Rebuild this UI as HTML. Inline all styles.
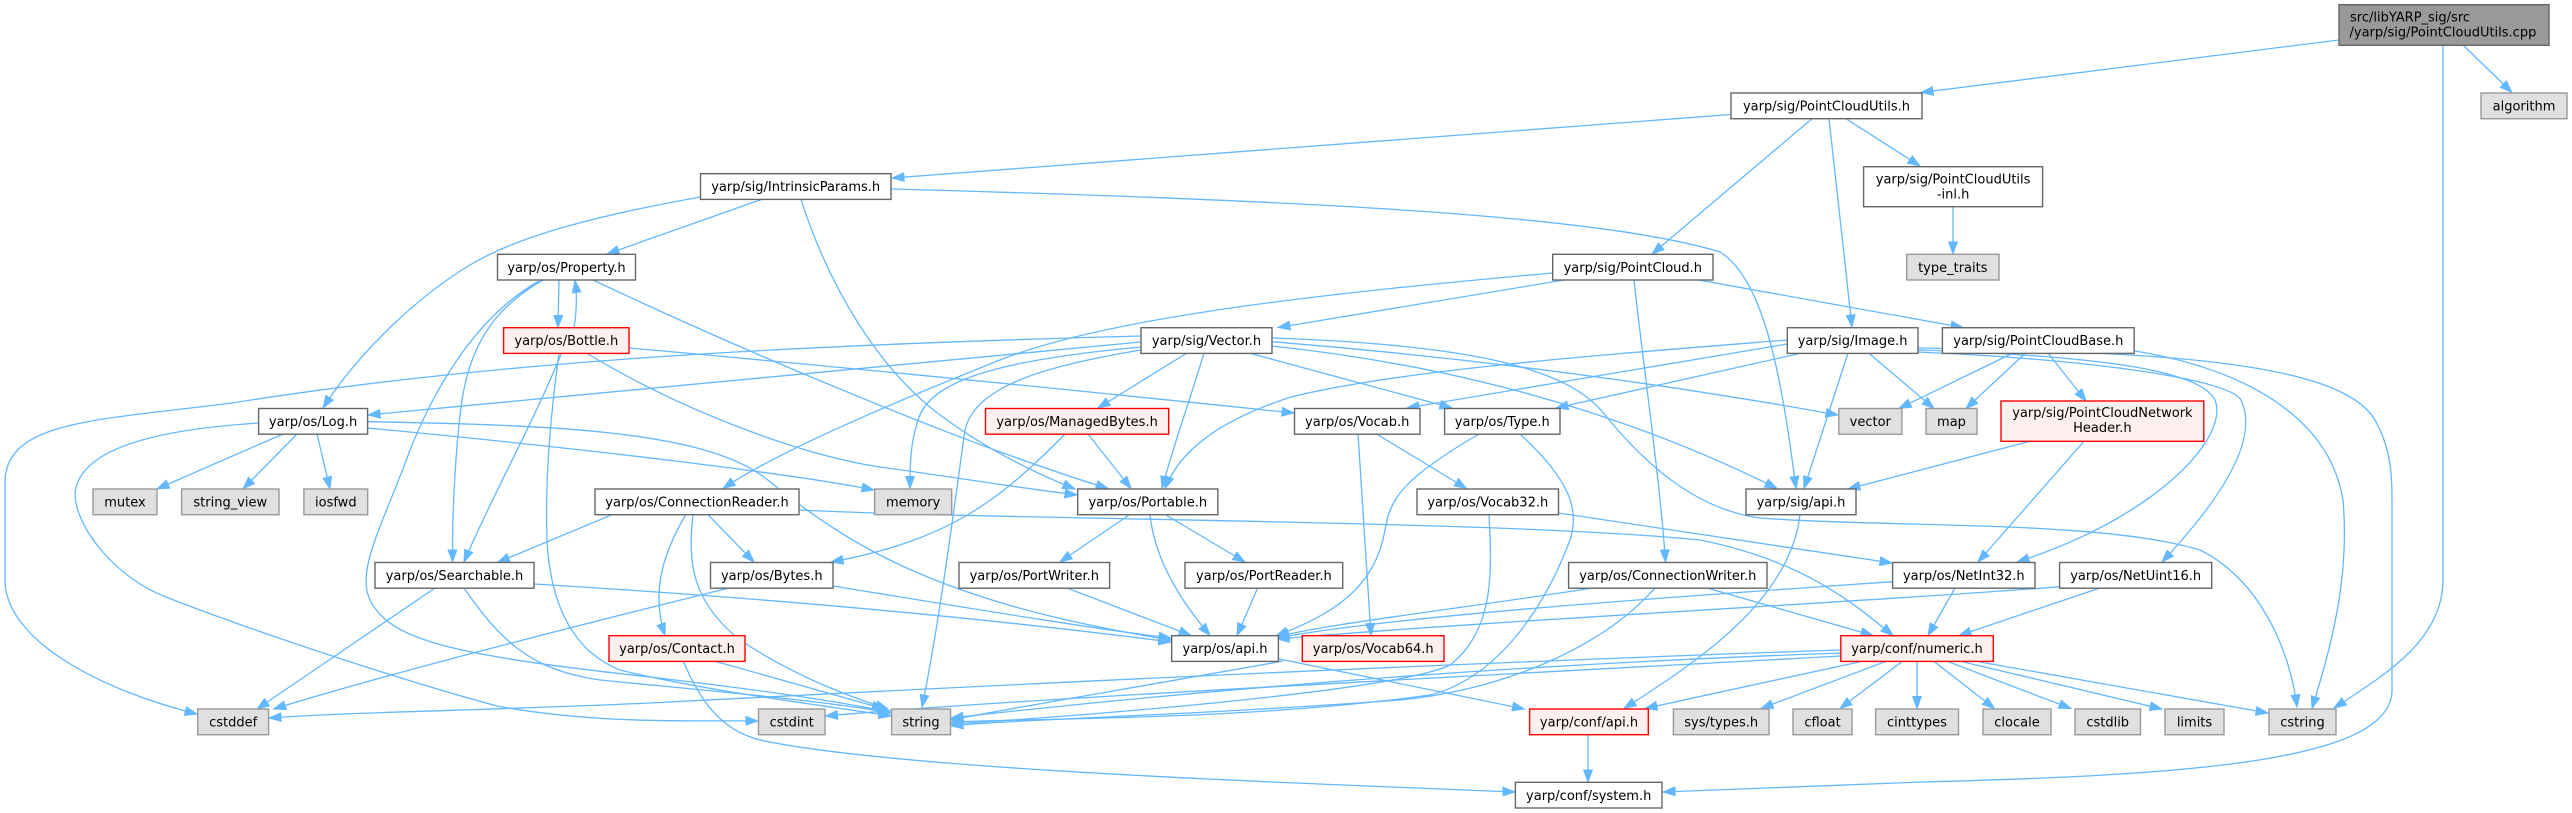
<!DOCTYPE html>
<html><head><meta charset="utf-8"><style>
html,body{margin:0;padding:0;background:#fff;}
svg{display:block;}
text{font-family:"DejaVu Sans","Liberation Sans",sans-serif;font-size:13px;fill:#000;}
.n rect{fill:#fff;stroke:#666;stroke-width:1.4;}
.r rect{fill:#fff0f0;stroke:#ff0000;stroke-width:1.4;}
.g rect{fill:#e0e0e0;stroke:#999;stroke-width:1.4;}
.e path{fill:none;stroke:#63b8ff;stroke-width:1.3;marker-end:url(#ar);}
</style></head><body>
<svg width="2572" height="813" viewBox="0 0 2572 813" xmlns="http://www.w3.org/2000/svg">
<defs><marker id="ar" markerUnits="userSpaceOnUse" markerWidth="14" markerHeight="11" refX="12.5" refY="5" orient="auto"><path d="M0,0.5 L12.5,5 L0,9.5 z" fill="#63b8ff" stroke="#63b8ff" stroke-width="1"/></marker></defs>
<g class="e">
<path d="M2339,40 L1921,92.5"/>
<path d="M2463,45 L2512,92.5"/>
<path d="M2443,45 L2443,580 C2443,640 2385,675 2334,708"/>
<path d="M1731,114.5 L892,178"/>
<path d="M1812,118.7 L1652,254"/>
<path d="M1829,118.7 L1852,327"/>
<path d="M1846,118.7 L1920,166"/>
<path d="M1953,206.7 L1953,254"/>
<path d="M700.5,197 C600,215 520,235 470,265 C420,295 360,350 323,408"/>
<path d="M762,199.3 L607,254"/>
<path d="M801,199.3 C830,290 880,370 940,415 C990,452 1040,475 1075,489"/>
<path d="M891,189 C1300,200 1600,215 1720,252 C1765,280 1782,380 1796,488.5"/>
<path d="M559,280 L558,327.5"/>
<path d="M574,327.7 C577,310 577,295 575,280.5"/>
<path d="M543,280 C490,310 470,350 462,400 C455,450 452,520 452.6,562"/>
<path d="M539,281 C470,320 430,400 410,450 C385,520 355,570 370,600 C390,640 450,655 650,677 C760,690 830,700 890,712"/>
<path d="M593,280 C720,340 950,440 1108,488.5"/>
<path d="M561.6,353 C530,430 490,500 464,562"/>
<path d="M559,353 C550,420 545,480 547,540 C550,600 570,650 620,670 C700,690 820,705 891,716"/>
<path d="M586.5,353 C680,410 800,455 880,467 C960,478 1020,488 1077,495"/>
<path d="M629,348 C900,372 1150,398 1294,413"/>
<path d="M1141,342 L368,415"/>
<path d="M1141,336 C800,345 500,360 232,403 C100,420 8,420 5,480 L5,580 C5,640 100,690 197,714"/>
<path d="M1141,347 C1000,360 930,380 918,420 C910,445 910,465 910,488.5"/>
<path d="M1141,350 C1050,365 975,385 965,430 C955,500 940,620 922,707"/>
<path d="M1187,353 L1098,408"/>
<path d="M1204,353 C1190,400 1175,440 1162,488.5"/>
<path d="M1249,353 L1452,408"/>
<path d="M1272,341.7 C1500,360 1700,390 1838,415"/>
<path d="M1272,346 C1450,365 1620,410 1777,488.5"/>
<path d="M1272,338 C1480,345 1570,370 1605,415 C1650,470 1700,510 1760,518 C1900,528 2100,520 2200,550 C2260,580 2290,650 2297,707"/>
<path d="M1564,280 L1278,327.5"/>
<path d="M1553,273 C1300,295 1100,320 1000,360 C900,400 780,450 723,488.5"/>
<path d="M1698.6,280 L1963,327.5"/>
<path d="M1634,280 C1645,380 1660,480 1665.5,562"/>
<path d="M1787,344 L1407,408"/>
<path d="M1802,353 L1556,408"/>
<path d="M1787,340 C1600,355 1400,370 1291,397 C1220,420 1180,450 1165,488.5"/>
<path d="M1848,353 L1804,488.5"/>
<path d="M1868.6,353 L1934,408.5"/>
<path d="M1918,350 C2100,356 2200,370 2215,400 C2230,440 2150,520 2017,562"/>
<path d="M1918,352 C2100,360 2230,380 2241,400 C2260,440 2220,500 2162,562"/>
<path d="M1918,348 C2150,352 2340,360 2375,420 C2392,450 2392,480 2392,500 L2392,690 C2392,760 2200,775 1922,782 C1800,786 1700,790 1663,792"/>
<path d="M2013,353 L1899,408.5"/>
<path d="M2025.6,353 L1966,408.5"/>
<path d="M2048,353 L2086,401"/>
<path d="M2135,351 C2250,370 2330,420 2343,500 C2350,580 2330,650 2312,708.5"/>
<path d="M2030,441.3 L1848,489"/>
<path d="M2083.6,441.7 L1978,562"/>
<path d="M283,434 L157,489"/>
<path d="M297,434 L243,489"/>
<path d="M317,434 L330,489"/>
<path d="M367.6,428 C600,450 800,475 874,490"/>
<path d="M367.6,421.7 C550,425 700,430 764,477 C830,530 900,580 1054,617 C1100,628 1140,635 1171,640"/>
<path d="M258.6,423 C150,430 80,450 75,493 C75,530 120,580 166,597 C250,630 400,680 497,706 C600,725 700,720 758,721"/>
<path d="M612,514.7 L497.5,562.5"/>
<path d="M708,514.7 L754,562"/>
<path d="M685.6,515 C665,550 650,590 665,635.5"/>
<path d="M693,515 C688,560 690,600 740,640 C800,680 860,700 888,709"/>
<path d="M799,510 C1000,520 1500,520 1700,540 C1800,560 1850,600 1893,635.5"/>
<path d="M435,588 L257,709"/>
<path d="M464,588 C500,640 530,670 600,680 C700,690 820,700 891,713"/>
<path d="M534,584 C800,600 1000,620 1171,642"/>
<path d="M729,588 C600,620 400,670 273.6,709"/>
<path d="M833,586 C950,605 1100,630 1171,638"/>
<path d="M1065,434 C1000,500 950,540 831,562"/>
<path d="M1088,434 L1131,488.5"/>
<path d="M1129,515 L1060,562"/>
<path d="M1166,515 L1245,562"/>
<path d="M1150,515 C1155,560 1180,600 1210,635.5"/>
<path d="M1067,588 L1191,635.5"/>
<path d="M1257.6,588 L1237,635.5"/>
<path d="M716.7,661.7 L884.5,709"/>
<path d="M683.5,661.7 C700,700 720,730 760,740 C900,770 1300,783 1515,792"/>
<path d="M1278,658.7 L1524.5,709"/>
<path d="M1283,661 C1150,685 1000,710 951,720"/>
<path d="M1376.6,434 L1466.5,488.5"/>
<path d="M1358,434 L1371,635.5"/>
<path d="M1479,434 C1400,480 1390,500 1385,530 C1375,590 1330,615 1276,636"/>
<path d="M1520,434 C1570,480 1580,510 1570,540 C1540,620 1490,680 1430,695 C1250,720 1050,718 951,722"/>
<path d="M1558.5,513 L1892,563"/>
<path d="M1489,514.7 C1492,570 1495,630 1450,665 C1400,690 1100,715 951,724"/>
<path d="M1800,514.7 C1790,600 1700,660 1624,708.5"/>
<path d="M1593,588 C1450,610 1320,625 1277,637"/>
<path d="M1655,588 C1600,650 1500,690 1400,700 C1200,715 1000,720 951,726"/>
<path d="M1707,588 L1873,635.5"/>
<path d="M1892.6,581.7 C1700,595 1400,615 1277,638"/>
<path d="M1955,588 L1928,635.5"/>
<path d="M2059.6,586.7 C1900,600 1500,620 1277,639"/>
<path d="M2100,588 L1959,635.5"/>
<path d="M1860,661.7 L1645,708.5"/>
<path d="M1885,661.7 L1761,708.5"/>
<path d="M1901.8,661.7 L1840,708.5"/>
<path d="M1917,661.7 L1917,708.5"/>
<path d="M1934.4,661.7 L1994.5,708.5"/>
<path d="M1949,662 L2071,708.5"/>
<path d="M1963.5,662 L2162,709"/>
<path d="M1980,662 L2268,713"/>
<path d="M1840.8,653 C1500,665 1200,690 951,718"/>
<path d="M1841,656 C1400,680 1000,700 825.5,716"/>
<path d="M1841,650 C1400,665 900,690 650,703 C500,710 350,712 269,718"/>
<path d="M1588,735 L1588,782"/>
</g>

<g class="n"><rect x="2339" y="4.7" width="210" height="40.6" style="fill:#999;stroke:#666"/></g>
<text x="2350" y="21.5">src/libYARP_sig/src</text>
<text x="2349.5" y="36.5">/yarp/sig/PointCloudUtils.cpp</text>

<g class="n"><rect x="1731" y="93" width="191" height="25.7"/></g><text x="1826.5" y="110.5" text-anchor="middle">yarp/sig/PointCloudUtils.h</text>
<g class="g"><rect x="2481" y="93" width="86" height="25.7"/></g><text x="2524" y="110.5" text-anchor="middle">algorithm</text>

<g class="n"><rect x="700.5" y="173.7" width="190.5" height="25.7"/></g><text x="795.7" y="191.2" text-anchor="middle">yarp/sig/IntrinsicParams.h</text>
<g class="n"><rect x="1863.6" y="166.7" width="179" height="40"/></g>
<text x="1953.1" y="183.5" text-anchor="middle">yarp/sig/PointCloudUtils</text>
<text x="1953.1" y="198.5" text-anchor="middle">-inl.h</text>

<g class="n"><rect x="497.5" y="254.3" width="138" height="25.7"/></g><text x="566.5" y="271.8" text-anchor="middle">yarp/os/Property.h</text>
<g class="n"><rect x="1552.7" y="254.3" width="160.3" height="25.7"/></g><text x="1632.8" y="271.8" text-anchor="middle">yarp/sig/PointCloud.h</text>
<g class="g"><rect x="1906.7" y="254.3" width="92.3" height="25.7"/></g><text x="1952.8" y="271.8" text-anchor="middle">type_traits</text>

<g class="r"><rect x="503.6" y="327.7" width="125.4" height="25.7"/></g><text x="566.3" y="345.2" text-anchor="middle">yarp/os/Bottle.h</text>
<g class="n"><rect x="1141" y="327.7" width="131" height="25.7"/></g><text x="1206.5" y="345.2" text-anchor="middle">yarp/sig/Vector.h</text>
<g class="n"><rect x="1787.3" y="327.7" width="130.7" height="25.7"/></g><text x="1852.6" y="345.2" text-anchor="middle">yarp/sig/Image.h</text>
<g class="n"><rect x="1942.4" y="327.7" width="191.8" height="25.7"/></g><text x="2038.3" y="345.2" text-anchor="middle">yarp/sig/PointCloudBase.h</text>

<g class="n"><rect x="258.6" y="408.5" width="109" height="25.7"/></g><text x="313.1" y="426" text-anchor="middle">yarp/os/Log.h</text>
<g class="r"><rect x="985.5" y="408.5" width="183.2" height="25.7"/></g><text x="1077.1" y="426" text-anchor="middle">yarp/os/ManagedBytes.h</text>
<g class="n"><rect x="1294.5" y="408.5" width="125.5" height="25.7"/></g><text x="1357.2" y="426" text-anchor="middle">yarp/os/Vocab.h</text>
<g class="n"><rect x="1444.6" y="408.5" width="115.4" height="25.7"/></g><text x="1502.3" y="426" text-anchor="middle">yarp/os/Type.h</text>
<g class="g"><rect x="1838.8" y="408.5" width="63.1" height="25.7"/></g><text x="1870.3" y="426" text-anchor="middle">vector</text>
<g class="g"><rect x="1926" y="408.5" width="51" height="25.7"/></g><text x="1951.5" y="426" text-anchor="middle">map</text>
<g class="r"><rect x="2001" y="401" width="202.8" height="40.3"/></g>
<text x="2102.4" y="417" text-anchor="middle">yarp/sig/PointCloudNetwork</text>
<text x="2102.4" y="432" text-anchor="middle">Header.h</text>

<g class="g"><rect x="93" y="489" width="64" height="25.7"/></g><text x="125" y="506.5" text-anchor="middle">mutex</text>
<g class="g"><rect x="181.6" y="489" width="97.4" height="25.7"/></g><text x="230.3" y="506.5" text-anchor="middle">string_view</text>
<g class="g"><rect x="303.9" y="489" width="63.8" height="25.7"/></g><text x="335.8" y="506.5" text-anchor="middle">iosfwd</text>
<g class="n"><rect x="595" y="489" width="204" height="25.7"/></g><text x="697" y="506.5" text-anchor="middle">yarp/os/ConnectionReader.h</text>
<g class="g"><rect x="874.6" y="489" width="77.1" height="25.7"/></g><text x="913.2" y="506.5" text-anchor="middle">memory</text>
<g class="n"><rect x="1077.7" y="489" width="140.1" height="25.7"/></g><text x="1147.8" y="506.5" text-anchor="middle">yarp/os/Portable.h</text>
<g class="n"><rect x="1417" y="489" width="141.5" height="25.7"/></g><text x="1487.8" y="506.5" text-anchor="middle">yarp/os/Vocab32.h</text>
<g class="n"><rect x="1746" y="489" width="110" height="25.7"/></g><text x="1801" y="506.5" text-anchor="middle">yarp/sig/api.h</text>

<g class="n"><rect x="375" y="562.5" width="159" height="25.7"/></g><text x="454.5" y="580" text-anchor="middle">yarp/os/Searchable.h</text>
<g class="n"><rect x="710.5" y="562.5" width="122.5" height="25.7"/></g><text x="771.8" y="580" text-anchor="middle">yarp/os/Bytes.h</text>
<g class="n"><rect x="959" y="562.5" width="150.6" height="25.7"/></g><text x="1034.3" y="580" text-anchor="middle">yarp/os/PortWriter.h</text>
<g class="n"><rect x="1185" y="562.5" width="157.7" height="25.7"/></g><text x="1263.9" y="580" text-anchor="middle">yarp/os/PortReader.h</text>
<g class="n"><rect x="1568.6" y="562.5" width="198.4" height="25.7"/></g><text x="1667.8" y="580" text-anchor="middle">yarp/os/ConnectionWriter.h</text>
<g class="n"><rect x="1892.6" y="562.5" width="142.4" height="25.7"/></g><text x="1963.8" y="580" text-anchor="middle">yarp/os/NetInt32.h</text>
<g class="n"><rect x="2059.6" y="562.5" width="152.1" height="25.7"/></g><text x="2135.7" y="580" text-anchor="middle">yarp/os/NetUint16.h</text>

<g class="r"><rect x="609" y="635.7" width="136" height="25.7"/></g><text x="677" y="653.2" text-anchor="middle">yarp/os/Contact.h</text>
<g class="n"><rect x="1171.7" y="635.7" width="106.7" height="25.7"/></g><text x="1225" y="653.2" text-anchor="middle">yarp/os/api.h</text>
<g class="r"><rect x="1302.3" y="635.7" width="141.7" height="25.7"/></g><text x="1373.2" y="653.2" text-anchor="middle">yarp/os/Vocab64.h</text>
<g class="r"><rect x="1840.8" y="635.7" width="152.5" height="25.7"/></g><text x="1917" y="653.2" text-anchor="middle">yarp/conf/numeric.h</text>

<g class="g"><rect x="197.7" y="709" width="70.9" height="25.7"/></g><text x="233.2" y="726.5" text-anchor="middle">cstddef</text>
<g class="g"><rect x="758.5" y="709" width="66.5" height="25.7"/></g><text x="791.7" y="726.5" text-anchor="middle">cstdint</text>
<g class="g"><rect x="891.6" y="709" width="58.9" height="25.7"/></g><text x="921" y="726.5" text-anchor="middle">string</text>
<g class="r"><rect x="1529.6" y="709" width="118.7" height="25.7"/></g><text x="1589" y="726.5" text-anchor="middle">yarp/conf/api.h</text>
<g class="g"><rect x="1673.4" y="709" width="95.6" height="25.7"/></g><text x="1721.2" y="726.5" text-anchor="middle">sys/types.h</text>
<g class="g"><rect x="1793" y="709" width="59" height="25.7"/></g><text x="1822.5" y="726.5" text-anchor="middle">cfloat</text>
<g class="g"><rect x="1875.6" y="709" width="82.9" height="25.7"/></g><text x="1917" y="726.5" text-anchor="middle">cinttypes</text>
<g class="g"><rect x="1983" y="709" width="68" height="25.7"/></g><text x="2017" y="726.5" text-anchor="middle">clocale</text>
<g class="g"><rect x="2075" y="709" width="65.5" height="25.7"/></g><text x="2107.7" y="726.5" text-anchor="middle">cstdlib</text>
<g class="g"><rect x="2165" y="709" width="59" height="25.7"/></g><text x="2194.5" y="726.5" text-anchor="middle">limits</text>
<g class="g"><rect x="2269" y="709" width="67" height="25.7"/></g><text x="2302.5" y="726.5" text-anchor="middle">cstring</text>

<g class="n"><rect x="1515.4" y="782.3" width="146.6" height="25.7"/></g><text x="1588.7" y="799.8" text-anchor="middle">yarp/conf/system.h</text>
</svg>
</body></html>
